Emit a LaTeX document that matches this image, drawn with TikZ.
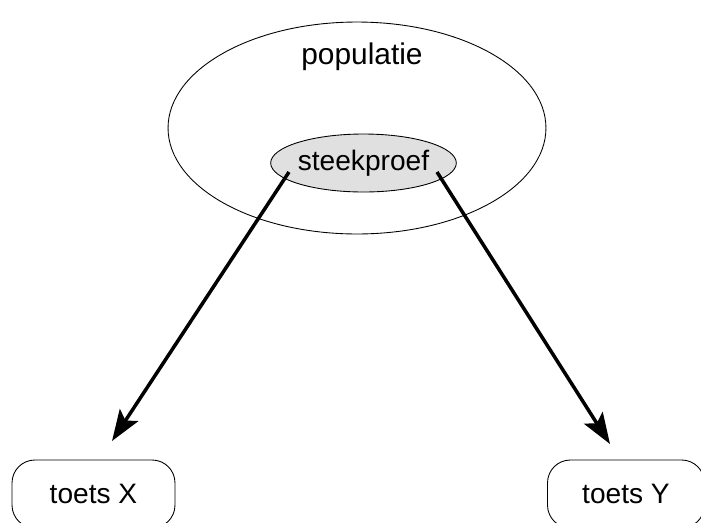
\documentclass[tikz,border=0pt]{standalone}
\usepackage{fontspec}
\setmainfont{Liberation Sans}
\usepackage{tikz}
\usetikzlibrary{shapes.geometric,arrows.meta}

\begin{document}
\begin{tikzpicture}[x=0.02cm, y=-0.02cm,
    bubble/.style={draw, ellipse, line width=0.5pt, inner sep=0pt},
    tekst/.style={font=\fontsize{16}{19}\selectfont},
    toetsbox/.style={draw, rounded corners=13pt, line width=0.5pt,
        minimum height=1.36cm, tekst},
    pijl/.style={-{Stealth[length=0.62cm, width=0.44cm, inset=0.13cm]}, line width=2pt}]
    % het beeld is 701 x 522, onderkant valt weg
    \clip (0,0) rectangle (701,522);

    % populatie en steekproef
    \node[bubble, minimum width=7.56cm, minimum height=4.24cm] (populatie) at (357,128) {};
    \node[tekst, font=\fontsize{17}{20}\selectfont] (poptekst) at (362,57) {populatie};
    \node[bubble, fill=black!12, minimum width=3.52cm, minimum height=1.16cm,
        tekst] (steek) at (363.5,163) {steekproef};

    % de twee toetsen
    \node[toetsbox, minimum width=3.26cm] (toetsX) at (93.5,494) {toets X};
    \node[toetsbox, minimum width=3.14cm] (toetsY) at (626,494) {toets Y};

    % pijlen vanuit de steekproef
    \coordinate (vanX) at (289,172);
    \coordinate (naarX) at (112,441);
    \coordinate (vanY) at (437,172);
    \coordinate (naarY) at (610,444);
    \draw[pijl] (vanX) -- (naarX);
    \draw[pijl] (vanY) -- (naarY);
\end{tikzpicture}
\end{document}
